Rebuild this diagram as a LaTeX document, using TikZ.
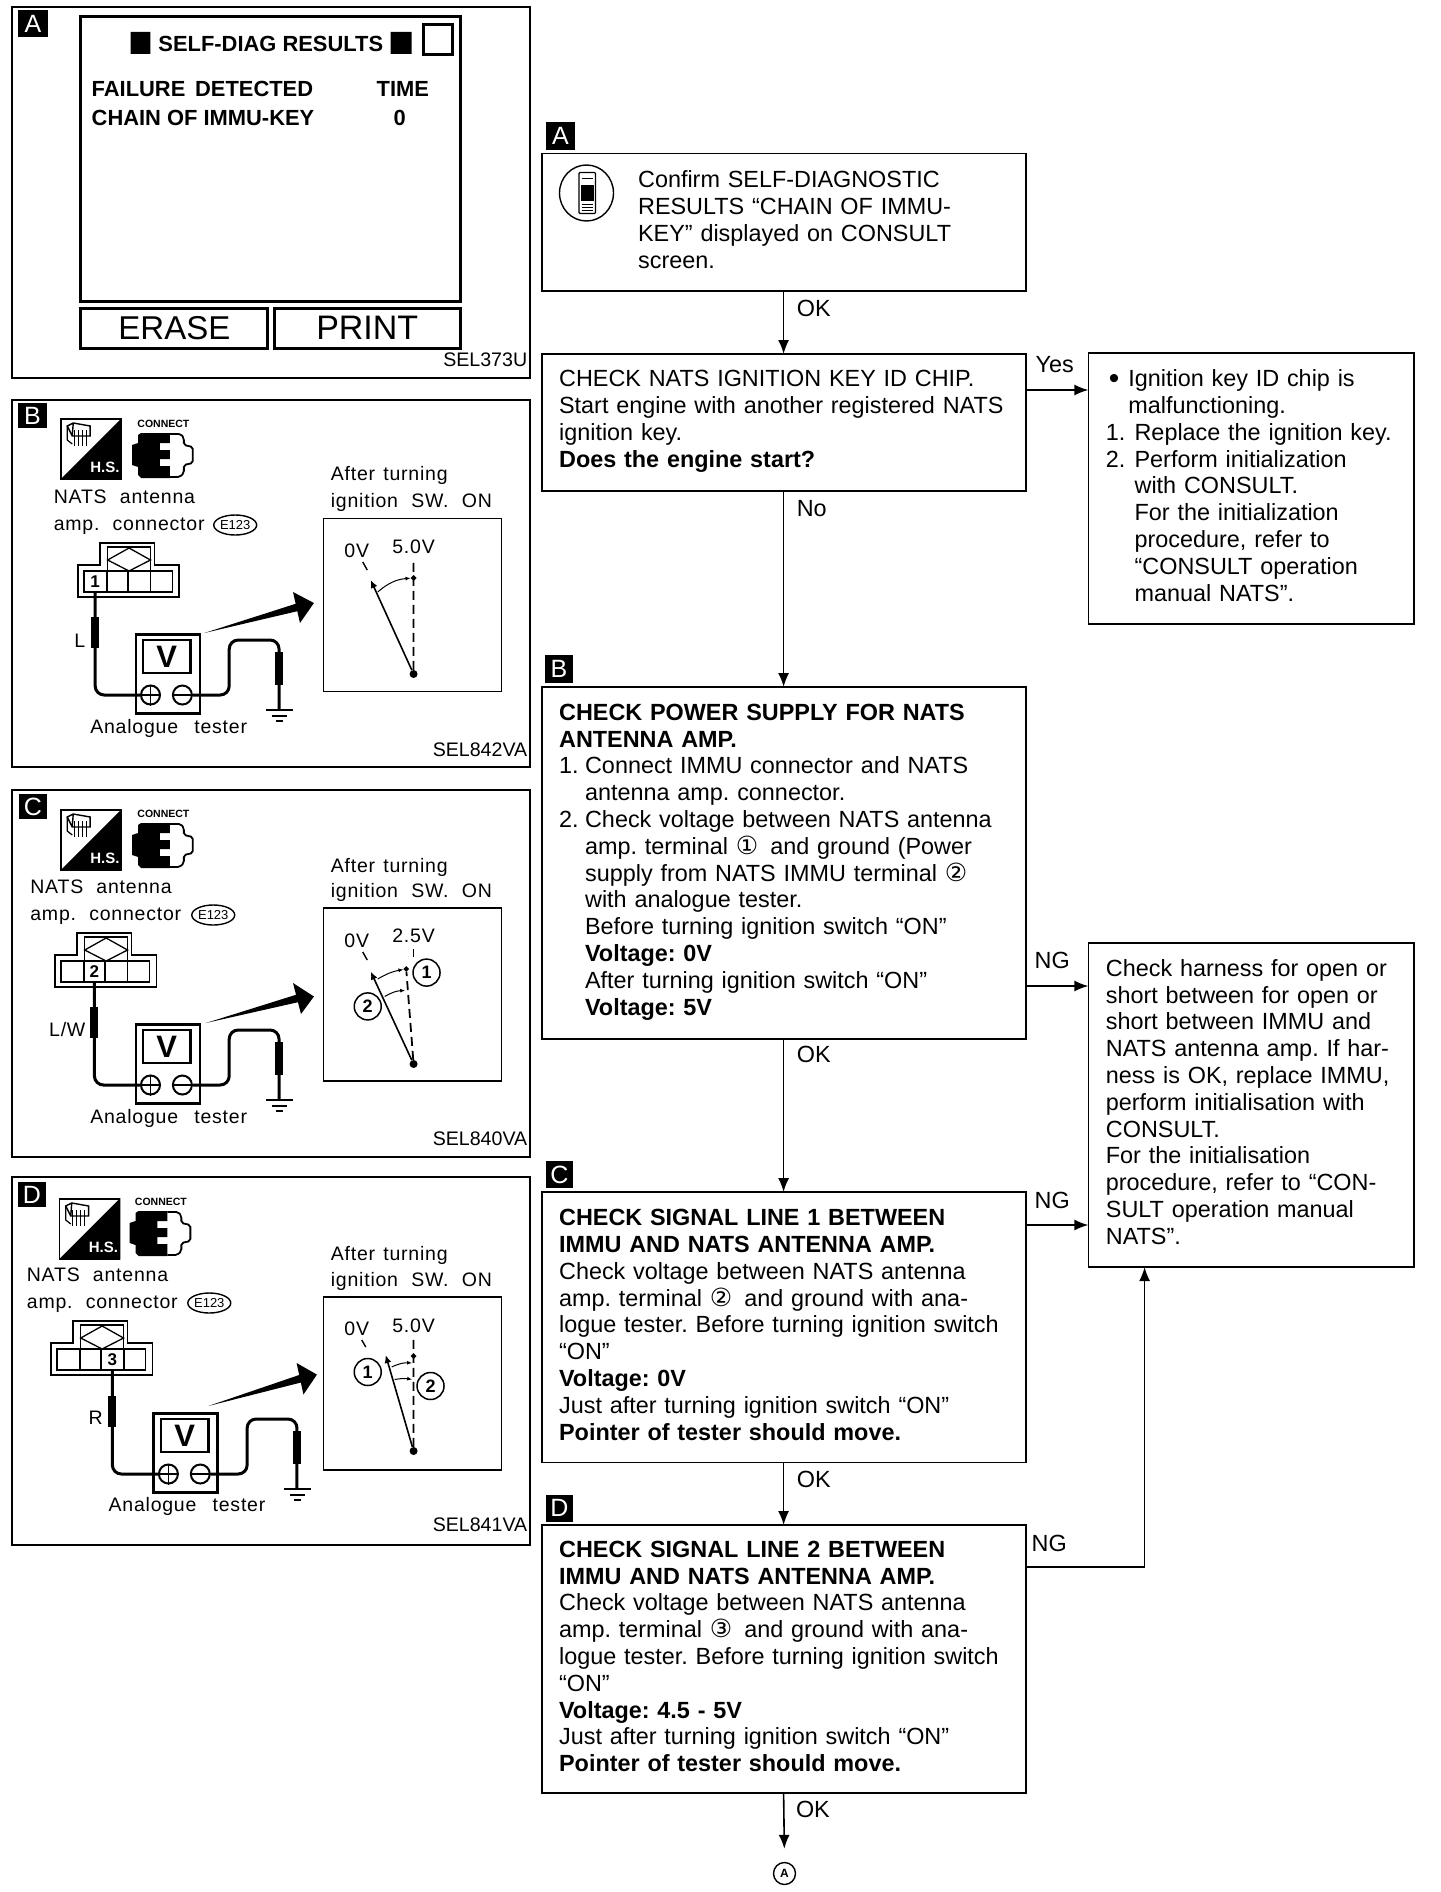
\documentclass[tikz,border=0pt]{standalone}
\usepackage{fontspec}
\setmainfont{Liberation Sans}
\newfontfamily\djv{DejaVu Sans}
\newfontfamily\lblfont[LetterSpace=4]{Liberation Sans}
\usetikzlibrary{arrows.meta,calc,shapes.geometric}
\frenchspacing
\newcount\tcnt
\newcommand\tx[4][]{\global\advance\tcnt 1 \node[plaintext,#1] (t\the\tcnt) at (#2,#3) {#4};}
\newcommand\cd[1]{{\djv\fontsize{25}{26.8}\selectfont #1}}
\newcommand\ind[1]{\hspace*{#1pt}}
\newcommand\gap[1]{\hspace{#1pt}}
\newcommand\upby[1]{\par\nointerlineskip\hbox{\rule{0pt}{#1pt}}}
\tikzset{
  x=1pt,y=-1pt,
  plaintext/.style={inner sep=0pt,outer sep=0pt,anchor=base west,font=\fontsize{23.4}{26.8}\selectfont},
  label20/.style={font=\lblfont\fontsize{19.5}{24}\selectfont},
  code19/.style={anchor=base east,font=\fontsize{19.6}{24}\selectfont},
  screentext/.style={font=\bfseries\fontsize{21.9}{24}\selectfont},
  flowbox/.style={draw=black,line width=1.8pt,align=left,inner xsep=17.5pt,inner ysep=0pt,outer sep=0pt,font=\fontsize{23.4}{26.8}\selectfont},
  wideflow/.style={flowbox,minimum width=484pt,text width=449pt},
  sideflow/.style={flowbox,minimum width=325.6pt,text width=290.6pt},
  panelbox/.style={draw=black,line width=2pt,minimum width=518pt,inner sep=0pt,outer sep=0pt},
  tagbox/.style={fill=black,text=white,inner sep=0pt,outer sep=0pt,font=\fontsize{25}{25}\selectfont},
  flowarrow/.style={draw=black,line width=1.6pt,-{Latex[length=14pt,width=11pt]}},
  meterbox/.style={draw=black,line width=1.5pt,minimum width=178pt,minimum height=173pt,inner sep=0pt,outer sep=0pt},
  wire/.style={draw=black,line width=3pt,rounded corners=9pt},
  probe/.style={draw=black,line width=8pt},
  needle/.style={draw=black,line width=1.6pt,-{Latex[length=8pt,width=7pt]}},
  dashneedle/.style={draw=black,line width=1.8pt,dash pattern=on 9pt off 5pt},
  sweep/.style={draw=black,line width=1pt,-{Latex[length=5pt,width=4pt]}},
  screenbox/.style={draw=black,line width=3pt,inner sep=0pt,outer sep=0pt},
  numcirc/.style={circle,draw=black,line width=1.5pt,minimum size=27pt,inner sep=0pt,font=\bfseries\fontsize{18}{18}\selectfont},
  termcirc/.style={circle,draw=black,fill=white,line width=2pt,minimum size=19pt,inner sep=0pt},
  pivotdot/.style={circle,fill=black,minimum size=8pt,inner sep=0pt},
  markdot/.style={diamond,fill=black,minimum size=6pt,inner sep=0pt},
}
% H.S. icon
\newcommand\hsicon[3]{%
  \node[draw=black,line width=1.5pt,minimum size=60pt,inner sep=0pt,anchor=north west] (#1) at (#2,#3) {};
  \fill (#1.north east) -- (#1.south west) -- (#1.south east) -- cycle;
  \node[text=white,inner sep=0pt,font=\bfseries\fontsize{15}{15}\selectfont] (#1t) at ($(#1.center)+(14,19)$) {H.S.};
  \begin{scope}[shift={(#2,#3)}]
    \draw[line width=1.4pt] (7,8) -- (13,5) -- (30,8) -- (30,18) -- (12,18) -- cycle (12,18) -- (13,5);
    \foreach \xx in {14,18,22,26}{\draw[line width=1.2pt] (\xx,12) -- (\xx,28);}
    \draw[line width=1.2pt] (7,8) -- (7,22) -- (12,26);
  \end{scope}}
% CONNECT icon
\newcommand\connicon[3]{%
  \node[inner sep=0pt,anchor=base,font=\bfseries\fontsize{10.5}{11}\selectfont] (#1t) at (#2+31.5,#3-6) {CONNECT};
  \begin{scope}[shift={(#2,#3)}]
    \fill (0,12) -- (6,10) -- (6,2) -- (9,0) -- (38,0) -- (38,10) -- (28,10) -- (28,17) -- (38,17) -- (38,26) -- (28,26) -- (28,33) -- (38,33) -- (38,45) -- (9,45) -- (6,42) -- (6,34) -- (0,32) -- cycle;
    \draw[line width=1.8pt,rounded corners=2pt] (38,1) -- (49,1) -- (52,5) -- (52,12) -- (61,14) -- (61,30) -- (52,32) -- (52,40) -- (48,44) -- (38,44);
    \coordinate (#1) at (31,22);
  \end{scope}}
% harness connector; #4,#5 numbered cell edges (local), #6 digit
\newcommand\harness[6]{%
  \begin{scope}[shift={(#2,#3)}]
    \draw[line width=1.8pt] (22,0) -- (22,-22) -- (77,-22) -- (77,0) -- (102,0) -- (102,32) -- (0,32) -- (0,0) -- cycle;
    \draw[line width=1.5pt] (6,6) rectangle (95,27);
    \draw[line width=1.5pt] (30,6) -- (30,-18) -- (73,-18) -- (73,6);
    \draw[line width=1.3pt] (30,-5) -- (51.5,-17) -- (73,-5) -- (51.5,6) -- cycle;
    \foreach \xx in {29,50.5,73}{\draw[line width=1.8pt] (\xx,6) -- (\xx,27);}
    \node[draw=black,fill=white,line width=2pt,inner sep=0pt,outer sep=0pt,minimum height=21pt,minimum width=#5pt-#4pt,font=\bfseries\fontsize{17}{17}\selectfont] (#1) at ({(#4+#5)/2},16.5) {#6};
  \end{scope}}
% tester with leads
\newcommand\tester[4]{%
  \begin{scope}[shift={(#2,#3)}]
    \node[draw=black,line width=2.5pt,minimum width=64pt,minimum height=79pt,inner sep=0pt,anchor=north west] (#1) at (0,0) {};
    \node[draw=black,line width=2.5pt,minimum width=47.5pt,minimum height=33pt,inner sep=0pt,font=\bfseries\fontsize{31}{31}\selectfont] (#1d) at (32.3,23.5) {V};
    \node[termcirc] (#1p) at (16,62) {};
    \node[termcirc] (#1m) at (48,62) {};
    \draw[line width=1.8pt] (#1p.west) -- (#1p.east) (#1p.north) -- (#1p.south) (#1m.west) -- (#1m.east);
    \draw[wire] (#1m.east) -- (95,62) -- (95,7) -- (145,7) -- (145,77);
    \draw[probe] (145,19) -- (145,52);
    \draw[line width=1.8pt] (132,77) -- (159,77) (138,83) -- (153,83);
    \draw[line width=2.2pt] (142,88) -- (149,88);
  \end{scope}
  \draw[wire] (#4.south) |- (#1p.west);
  \draw[probe] (#4.south |- 0,#3-16) -- (#4.south |- 0,#3+15);}
\newcommand\bigarrow[4]{\fill (#1) -- ($(#3)!.38!(#4)$) -- (#3) -- (#2) -- (#4) -- ($(#3)!.62!(#4)$) -- cycle;}
\begin{document}
\begin{tikzpicture}
\useasboundingbox (0,0) rectangle (1440,1892);
\fill[white] (0,0) rectangle (1440,1892);

\begin{scope}[xscale=0.9966]
% ---- Panel A
\node[panelbox,minimum height=371pt] (panelA) at (271.5,192.5) {};
\node[tagbox,minimum width=30pt,minimum height=27pt] (ptagA) at (33,23.5) {A};
\node[screenbox,minimum width=380pt,minimum height=284pt] (screen) at (271.5,159) {};
\fill (131,32) rectangle (151,54) (392,32) rectangle (413,54);
\node[screenbox,minimum width=29pt,minimum height=30pt] (sqbox) at (439.5,40) {};
\tx[screentext]{159}{52}{SELF-DIAG RESULTS}
\tx[screentext]{92}{97}{FAILURE\, DETECTED}
\tx[screentext]{378}{97}{TIME}
\tx[screentext]{92}{125}{CHAIN OF IMMU-KEY}
\tx[screentext,anchor=base]{401}{125}{0}
\node[screenbox,minimum width=187pt,minimum height=40pt,font=\fontsize{33}{33}\selectfont] (btnE) at (175,328) {ERASE\hspace{3pt}};
\node[screenbox,minimum width=186pt,minimum height=40pt,font=\fontsize{34}{34}\selectfont] (btnP) at (368.5,328) {PRINT\hspace{3pt}};
\tx[code19]{529}{366}{SEL373U}

% ---- Panel B
\node[panelbox,minimum height=367pt] (panelB) at (271.5,583.5) {};
\node[tagbox,minimum width=29pt,minimum height=25pt] (ptagB) at (32.5,415.5) {B};
\hsicon{hsB}{60.5}{418}
\connicon{ciB}{132.5}{433}
\tx[label20]{54}{503}{NATS\gap{7} antenna}
\tx[label20]{54}{530}{amp.\gap{7} connector}
\node[ellipse,draw=black,line width=1.4pt,minimum width=42pt,minimum height=20pt,inner sep=0pt,font=\fontsize{13}{13}\selectfont] (ovB) at (236,525) {E123};
\harness{cellB}{78}{565}{6}{29}{1}
\tx[label20,anchor=base]{80}{647}{L}
\tester{tB}{135}{633}{cellB}
\tx[label20]{90.6}{733}{Analogue\gap{10} tester}
\bigarrow{205,633}{315,603}{294,592}{301,623}
\tx[label20]{332}{480}{After\gap{2} turning}
\tx[label20]{332}{507}{ignition\gap{7} SW.\gap{7} ON}
\node[meterbox] (mB) at (413.75,605) {};
\tx[label20,anchor=base]{358}{557}{0V}
\tx[label20,anchor=base]{415}{553}{5.0V}
\node[pivotdot] (pvB) at (415,674) {};
\node[markdot] (dtB) at (415,578) {};
\coordinate (endB) at (415,558);
\coordinate (tipB) at (372,580);
\draw[dashneedle] (pvB) -- (endB);
\draw[needle] (pvB) -- (tipB);
\draw[line width=1.4pt] (368.5,570) -- (364,562);
\draw[sweep] (379,592) to[bend left=18] (dtB);
\tx[code19]{529}{756}{SEL842VA}

% ---- Panel C
\node[panelbox,minimum height=367pt] (panelC) at (271.5,973.5) {};
\node[tagbox,minimum width=28pt,minimum height=25pt] (ptagC) at (33,806.5) {C};
\hsicon{hsC}{60.5}{809}
\connicon{ciC}{132.5}{823}
\tx[label20]{30.5}{893.5}{NATS\gap{7} antenna}
\tx[label20]{30.5}{920}{amp.\gap{7} connector}
\node[ellipse,draw=black,line width=1.4pt,minimum width=42pt,minimum height=20pt,inner sep=0pt,font=\fontsize{13}{13}\selectfont] (ovC) at (214,915) {E123};
\harness{cellC}{55}{955}{29}{50.5}{2}
\tx[label20,anchor=base]{67.5}{1036}{L/W}
\tester{tC}{135}{1023}{cellC}
\tx[label20]{90.6}{1123}{Analogue\gap{10} tester}
\bigarrow{206.6,1023}{315,996.5}{294,983}{302,1014}
\tx[label20]{332}{872}{After\gap{2} turning}
\tx[label20]{332}{897}{ignition\gap{7} SW.\gap{7} ON}
\node[meterbox] (mC) at (413.75,994.5) {};
\tx[label20,anchor=base]{358}{947}{0V}
\tx[label20,anchor=base]{415}{942}{2.5V}
\node[pivotdot] (pvC) at (415,1064) {};
\node[markdot] (dtC) at (407.6,969) {};
\coordinate (tipC) at (372,971.6);
\draw[dashneedle] (pvC) -- (dtC);
\draw[needle] (pvC) -- (tipC);
\draw[line width=1.8pt] (415,949) -- (415,957);
\draw[line width=1.4pt] (368.5,960) -- (364,952);
\draw[sweep] (379,979) to[bend left=10] (dtC);
\draw[sweep] (386,996.5) to[bend left=14] (406.6,990.5);
\node[numcirc] (n1C) at (428,972.6) {1};
\node[numcirc] (n2C) at (369,1006.4) {2};
\tx[code19]{529}{1145}{SEL840VA}

% ---- Panel D
\node[panelbox,minimum height=368pt] (panelD) at (271.5,1361) {};
\node[tagbox,minimum width=28pt,minimum height=25pt] (ptagD) at (32,1194.5) {D};
\hsicon{hsD}{59}{1198}
\connicon{ciD}{130}{1211}
\tx[label20]{27}{1281.5}{NATS\gap{7} antenna}
\tx[label20]{27}{1308}{amp.\gap{7} connector}
\node[ellipse,draw=black,line width=1.4pt,minimum width=42pt,minimum height=20pt,inner sep=0pt,font=\fontsize{13}{13}\selectfont] (ovD) at (210,1303) {E123};
\harness{cellD}{51}{1343}{50.5}{73}{3}
\tx[label20,anchor=base]{96}{1424}{R}
\tester{tD}{153}{1412}{cellD}
\tx[label20]{109}{1511}{Analogue\gap{10} tester}
\bigarrow{209,1406}{318,1374.6}{297.6,1363}{304.5,1394.5}
\tx[label20]{332}{1260}{After\gap{2} turning}
\tx[label20]{332}{1286.5}{ignition\gap{7} SW.\gap{7} ON}
\node[meterbox] (mD) at (413.75,1383.5) {};
\tx[label20,anchor=base]{358}{1335}{0V}
\tx[label20,anchor=base]{415}{1332}{5.0V}
\node[pivotdot] (pvD) at (415,1451) {};
\node[markdot] (dtD) at (415,1356) {};
\coordinate (endD) at (415,1337);
\coordinate (tipD) at (387,1355);
\draw[dashneedle] (pvD) -- (endD);
\draw[needle] (pvD) -- (tipD);
\draw[line width=1.4pt] (367,1347) -- (363,1340);
\draw[sweep] (393,1367) to[bend left=14] (413.5,1363);
\draw[sweep] (396,1379.5) to[bend left=10] (413.5,1379.5);
\node[numcirc] (n1D) at (369,1372) {1};
\node[numcirc] (n2D) at (432,1386) {2};
\tx[code19]{529}{1531}{SEL841VA}
\end{scope}

% ---- Flow chart
\node[tagbox,minimum width=29pt,minimum height=28pt] (tagA) at (560.4,136) {A};
\node[wideflow,minimum height=137.5pt] (boxA) at (783.6,222.3) {%
\ind{79}Confirm SELF-DIAGNOSTIC\\
\ind{79}RESULTS “CHAIN OF IMMU-\\
\ind{79}KEY” displayed on CONSULT\\
\ind{79}screen.\upby{5}};
\node[ellipse,draw=black,line width=1.4pt,minimum width=54pt,minimum height=56pt,inner sep=0pt] (iconA) at (586.5,193) {};
\draw[line width=1.3pt,rounded corners=1pt] (579,172.5) rectangle (595.5,213.5);
\fill (580.5,185) rectangle (593.5,201);
\draw[line width=1pt] (581.5,178) -- (592.5,178) (581.5,204) -- (592.5,204) (581.5,207) -- (592.5,207) (581.5,210) -- (592.5,210);

\node[wideflow,minimum height=137pt] (boxK) at (783.6,422.5) {%
CHECK NATS IGNITION KEY ID CHIP.\\
Start engine with another registered NATS\\
ignition key.\\
\textbf{Does the engine start?}\upby{2}};
\node[sideflow,minimum height=271pt] (boxR) at (1251.2,488.5) {%
\makebox[22.5pt][l]{\hspace{3pt}\raisebox{-2pt}{\fontsize{30}{26.8}\selectfont •}}Ignition key ID chip is\\
\ind{22.5}malfunctioning.\\
\makebox[28.7pt][l]{1.}Replace the ignition key.\\
\makebox[28.7pt][l]{2.}Perform initialization\\
\ind{28.7}with CONSULT.\\
\ind{28.7}For the initialization\\
\ind{28.7}procedure, refer to\\
\ind{28.7}“CONSULT operation\\
\ind{28.7}manual NATS”.\upby{6}};
\node[tagbox,minimum width=28pt,minimum height=28pt] (tagB) at (559,669) {B};
\node[wideflow,minimum height=352pt] (boxB) at (783.6,863) {%
\textbf{CHECK POWER SUPPLY FOR NATS}\\
\textbf{ANTENNA AMP.}\\
\makebox[26pt][l]{1.}Connect IMMU connector and NATS\\
\ind{26}antenna amp. connector.\\
\makebox[26pt][l]{2.}Check voltage between NATS antenna\\
\ind{26}amp. terminal \cd{①}\gap{12}and ground (Power\\
\ind{26}supply from NATS IMMU terminal \cd{②}\\
\ind{26}with analogue tester.\\
\ind{26}Before turning ignition switch “ON”\\
\ind{26}\textbf{Voltage: 0V}\\
\ind{26}After turning ignition switch “ON”\\
\ind{26}\textbf{Voltage: 5V}\upby{2}};
\node[sideflow,minimum height=324pt] (boxN) at (1251.2,1105) {%
Check harness for open or\\
short between for open or\\
short between IMMU and\\
NATS antenna amp. If har-\\
ness is OK, replace IMMU,\\
perform initialisation with\\
CONSULT.\\
For the initialisation\\
procedure, refer to “CON-\\
SULT operation manual\\
NATS”.\upby{6}};
\node[tagbox,minimum width=27pt,minimum height=27pt] (tagC) at (559.5,1174.5) {C};
\node[wideflow,minimum height=270.5pt] (boxC) at (783.6,1327.3) {%
\textbf{CHECK SIGNAL LINE 1 BETWEEN}\\
\textbf{IMMU AND NATS ANTENNA AMP.}\\
Check voltage between NATS antenna\\
amp. terminal \cd{②}\gap{12}and ground with ana-\\
logue tester. Before turning ignition switch\\
“ON”\\
\textbf{Voltage: 0V}\\
Just after turning ignition switch “ON”\\
\textbf{Pointer of tester should move.}\upby{5}};
\node[tagbox,minimum width=27pt,minimum height=27pt] (tagD) at (559.5,1508) {D};
\node[wideflow,minimum height=268pt] (boxD) at (783.6,1659) {%
\textbf{CHECK SIGNAL LINE 2 BETWEEN}\\
\textbf{IMMU AND NATS ANTENNA AMP.}\\
Check voltage between NATS antenna\\
amp. terminal \cd{③}\gap{12}and ground with ana-\\
logue tester. Before turning ignition switch\\
“ON”\\
\textbf{Voltage: 4.5 - 5V}\\
Just after turning ignition switch “ON”\\
\textbf{Pointer of tester should move.}\upby{5}};
\node[circle,draw=black,line width=1.4pt,minimum size=22pt,inner sep=0pt,font=\bfseries\fontsize{12}{12}\selectfont] (circA) at (784.5,1873.5) {A};

\draw[flowarrow] (boxA.south) -- (boxK.north);
\draw[flowarrow] (boxK.east |- 0,390) -- (boxR.west |- 0,390);
\draw[flowarrow] (boxK.south) -- (boxB.north);
\draw[flowarrow] (boxB.east |- 0,986) -- (boxN.west |- 0,986);
\draw[flowarrow] (boxB.south) -- (boxC.north);
\draw[flowarrow] (boxC.east |- 0,1225) -- (boxN.west |- 0,1225);
\draw[flowarrow] (boxC.south) -- (boxD.north);
\draw[flowarrow] (boxD.east |- 0,1567) -| (1144.6,0 |- boxN.south);
\draw[flowarrow,shorten >=13pt] (boxD.south) -- (circA.north);

\tx{796.8}{316}{OK}
\tx{1035.7}{372.5}{Yes}
\tx{796.8}{516}{No}
\tx{1034.7}{968}{NG}
\tx{796.8}{1062}{OK}
\tx{1034.7}{1208}{NG}
\tx{796.8}{1487}{OK}
\tx{1031.7}{1551}{NG}
\tx{796}{1817}{OK}
\end{tikzpicture}
\end{document}
